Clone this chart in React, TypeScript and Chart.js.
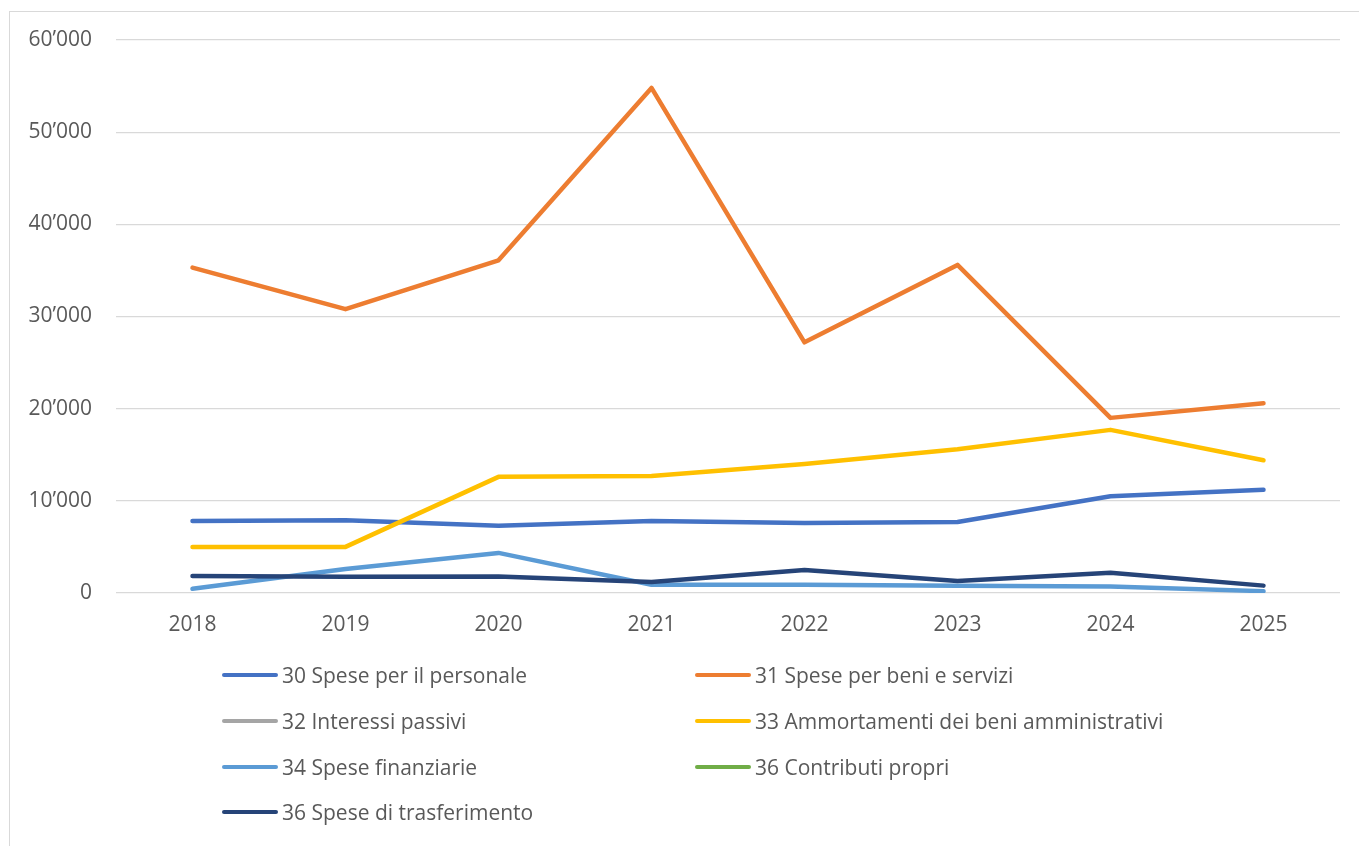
import React, { useEffect, useRef } from "react";
import { Chart, registerables } from "chart.js";

Chart.register(...registerables);

const years = ["2018", "2019", "2020", "2021", "2022", "2023", "2024", "2025"];

const personale = [7800, 7900, 7300, 7800, 7600, 7700, 10500, 11200];
const beniServizi = [35300, 30800, 36100, 54800, 27200, 35600, 19000, 20600];
const interessiPassivi: (number | null)[] = [null, null, null, null, null, null, null, null];
const ammortamenti = [5000, 5000, 12600, 12700, 14000, 15600, 17700, 14400];
const speseFinanziarie = [450, 2600, 4350, 900, 900, 800, 700, 200];
const contributiPropri: (number | null)[] = [null, null, null, null, null, null, null, null];
const speseTrasferimento = [1850, 1750, 1800, 1200, 2500, 1300, 2200, 800];

const seriesNames = [
  "30 Spese per il personale",
  "31 Spese per beni e servizi",
  "32 Interessi passivi",
  "33 Ammortamenti dei beni amministrativi",
  "34 Spese finanziarie",
  "36 Contributi propri",
  "36 Spese di trasferimento",
];
const seriesColors = ["#4472C4", "#ED7D31", "#A5A5A5", "#FFC000", "#5B9BD5", "#70AD47", "#264478"];
const seriesData = [personale, beniServizi, interessiPassivi, ammortamenti, speseFinanziarie, contributiPropri, speseTrasferimento];

const FONT = "'Open Sans', sans-serif";
const TEXT = "#595959";

function fmt(v: number): string {
  const s = Math.round(v).toString();
  return s.replace(/\B(?=(\d{3})+(?!\d))/g, "\u2019");
}

export default function App() {
  const ref = useRef<HTMLCanvasElement | null>(null);

  useEffect(() => {
    if (!ref.current) return;
    const chart = new Chart(ref.current, {
      type: "line",
      data: {
        labels: years,
        datasets: seriesData.map((d, i) => ({
          label: seriesNames[i],
          data: d,
          borderColor: seriesColors[i],
          backgroundColor: seriesColors[i],
          borderWidth: 4.5,
          pointRadius: 0,
          borderCapStyle: "round" as const,
          borderJoinStyle: "round" as const,
          tension: 0,
          order: seriesData.length - i,
        })),
      },
      options: {
        responsive: false,
        animation: false,
        devicePixelRatio: 1,
        layout: { padding: { left: 0, right: 19, top: 40, bottom: 193 } },
        plugins: { legend: { display: false }, tooltip: { enabled: false } },
        scales: {
          x: {
            offset: true,
            grid: { display: false, drawTicks: false },
            border: { display: false },
            ticks: { color: TEXT, font: { family: FONT, size: 21 }, padding: 19, maxRotation: 0 },
            afterFit: (s: any) => { s.height = 60; },
          },
          y: {
            min: 0,
            max: 60000,
            grid: { color: "#d9d9d9", lineWidth: 1.3, drawTicks: false },
            border: { display: false },
            ticks: {
              stepSize: 10000,
              color: TEXT,
              font: { family: FONT, size: 21 },
              padding: 24,
              callback: (v: any) => fmt(Number(v)),
            },
            afterFit: (s: any) => { s.width = 116; },
          },
        },
      },
    });
    return () => chart.destroy();
  }, []);

  const rows = [
    [0, 1],
    [2, 3],
    [4, 5],
    [6],
  ];
  const rowY = [675, 721, 767, 812];
  const colSample = [222, 695];
  const colText = [282, 755];

  return (
    <div style={{ position: "absolute", left: 0, top: 0, width: 1359, height: 846, overflow: "hidden", background: "#fff" }}>
      <div
        style={{
          position: "absolute",
          left: 9,
          top: 11,
          width: 1350,
          height: 835,
          boxSizing: "border-box",
          borderLeft: "1.5px solid #d9d9d9",
          borderTop: "1.5px solid #d9d9d9",
        }}
      />
      <canvas ref={ref} width={1359} height={846} style={{ position: "absolute", left: 0, top: 0, width: 1359, height: 846 }} />
      {rows.map((r, ri) =>
        r.map((si, ci) => (
          <React.Fragment key={si}>
            <div
              style={{
                position: "absolute",
                left: colSample[ci],
                top: rowY[ri] - 2.25,
                width: 56,
                height: 4.5,
                borderRadius: 2.25,
                background: seriesColors[si],
              }}
            />
            <div
              style={{
                position: "absolute",
                left: colText[ci],
                top: rowY[ri] - 15,
                height: 30,
                lineHeight: "30px",
                fontFamily: FONT,
                fontSize: 21,
                color: TEXT,
                whiteSpace: "nowrap",
              }}
            >
              {seriesNames[si]}
            </div>
          </React.Fragment>
        ))
      )}
    </div>
  );
}
